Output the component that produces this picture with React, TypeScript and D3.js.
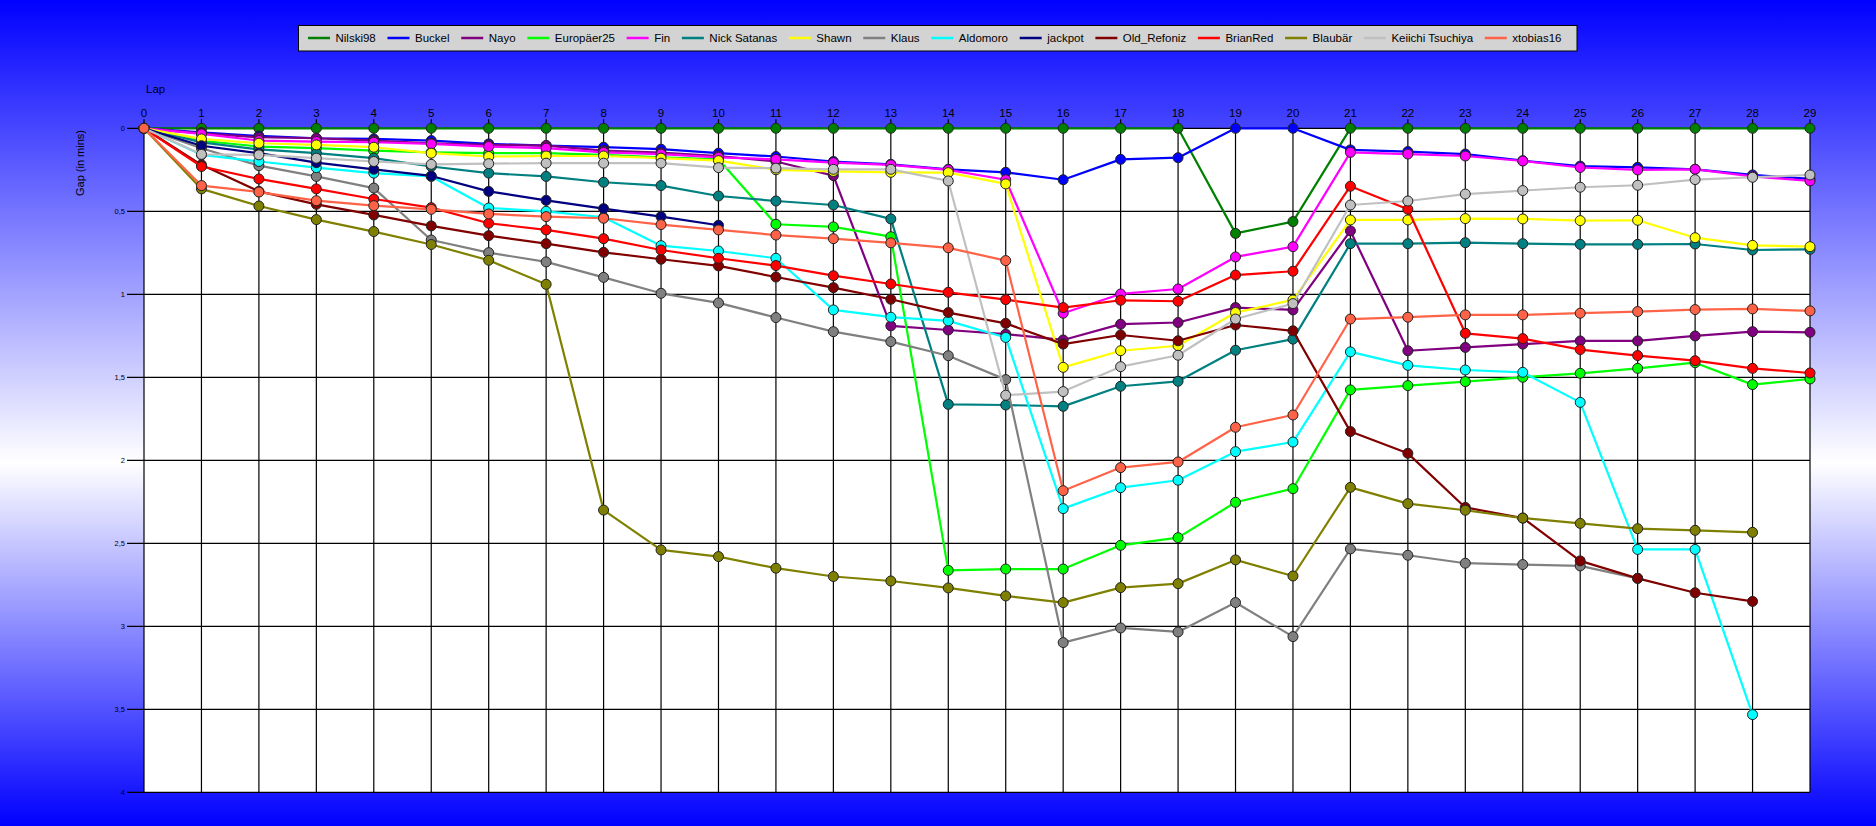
import { useEffect, useRef } from 'react';
import * as d3 from 'd3';

// Lap numbers (x categories)
const laps = [0, 1, 2, 3, 4, 5, 6, 7, 8, 9, 10, 11, 12, 13, 14, 15, 16, 17, 18, 19, 20, 21, 22, 23, 24, 25, 26, 27, 28, 29];

// Gap to leader in minutes, one value per lap (null = no data)
const nilski98 = [0, 0, 0, 0, 0, 0, 0, 0, 0, 0, 0, 0, 0, 0, 0, 0, 0, 0, 0, 0.633, 0.562, 0, 0, 0, 0, 0, 0, 0, 0, 0];
const buckel = [0, 0.025, 0.046, 0.06, 0.064, 0.074, 0.094, 0.104, 0.114, 0.126, 0.15, 0.17, 0.2, 0.217, 0.247, 0.265, 0.31, 0.187, 0.177, 0, 0, 0.13, 0.14, 0.155, 0.195, 0.228, 0.235, 0.247, 0.281, 0.305];
const nayo = [0, 0.03, 0.054, 0.06, 0.074, 0.09, 0.1, 0.104, 0.135, 0.147, 0.167, 0.2, 0.285, 1.19, 1.215, 1.24, 1.275, 1.18, 1.17, 1.08, 1.094, 0.618, 1.34, 1.32, 1.3, 1.281, 1.281, 1.251, 1.225, 1.229];
const europaer25 = [0, 0.075, 0.11, 0.12, 0.135, 0.145, 0.15, 0.15, 0.16, 0.175, 0.187, 0.578, 0.594, 0.653, 2.663, 2.655, 2.655, 2.512, 2.466, 2.253, 2.171, 1.576, 1.55, 1.526, 1.5, 1.476, 1.446, 1.412, 1.544, 1.51];
const fin = [0, 0.034, 0.074, 0.08, 0.084, 0.094, 0.11, 0.12, 0.145, 0.155, 0.175, 0.187, 0.207, 0.22, 0.25, 0.31, 1.114, 0.998, 0.968, 0.775, 0.713, 0.145, 0.155, 0.167, 0.197, 0.236, 0.251, 0.247, 0.29, 0.317];
const nickSatanas = [0, 0.085, 0.127, 0.15, 0.18, 0.23, 0.27, 0.29, 0.325, 0.345, 0.408, 0.438, 0.462, 0.546, 1.663, 1.667, 1.675, 1.554, 1.524, 1.337, 1.27, 0.695, 0.695, 0.689, 0.695, 0.699, 0.699, 0.697, 0.733, 0.729];
const shawn = [0, 0.064, 0.09, 0.1, 0.114, 0.15, 0.17, 0.167, 0.167, 0.18, 0.195, 0.25, 0.26, 0.265, 0.267, 0.335, 1.44, 1.34, 1.31, 1.11, 1.034, 0.552, 0.552, 0.544, 0.546, 0.556, 0.554, 0.659, 0.705, 0.713];
const klaus = [0, 0.12, 0.225, 0.29, 0.36, 0.673, 0.749, 0.805, 0.898, 0.994, 1.052, 1.14, 1.225, 1.285, 1.37, 1.514, 3.098, 3.01, 3.034, 2.857, 3.062, 2.534, 2.572, 2.62, 2.628, 2.636, 2.711, null, null, null];
const aldomoro = [0, 0.16, 0.2, 0.237, 0.27, 0.29, 0.48, 0.5, 0.536, 0.707, 0.739, 0.783, 1.094, 1.138, 1.16, 1.26, 2.291, 2.165, 2.12, 1.948, 1.89, 1.347, 1.428, 1.456, 1.47, 1.651, 2.537, 2.537, 3.532, null];
const jackpot = [0, 0.105, 0.15, 0.207, 0.247, 0.287, 0.38, 0.434, 0.484, 0.532, 0.584, null, null, null, null, null, null, null, null, null, null, null, null, null, null, null, null, null, null, null];
const oldRefoniz = [0, 0.22, 0.38, 0.458, 0.522, 0.588, 0.647, 0.695, 0.747, 0.789, 0.829, 0.896, 0.96, 1.03, 1.11, 1.175, 1.3, 1.245, 1.28, 1.185, 1.22, 1.827, 1.958, 2.284, 2.348, 2.606, 2.711, 2.798, 2.85, null];
const brianRed = [0, 0.23, 0.305, 0.365, 0.426, 0.478, 0.572, 0.612, 0.665, 0.733, 0.783, 0.827, 0.888, 0.938, 0.988, 1.032, 1.08, 1.036, 1.042, 0.884, 0.861, 0.349, 0.488, 1.235, 1.267, 1.333, 1.369, 1.4, 1.446, 1.474];
const blaubaer = [0, 0.365, 0.468, 0.55, 0.622, 0.7, 0.795, 0.94, 2.3, 2.54, 2.58, 2.65, 2.7, 2.727, 2.769, 2.817, 2.857, 2.767, 2.743, 2.6, 2.697, 2.163, 2.261, 2.301, 2.348, 2.38, 2.412, 2.422, 2.434, null];
const keiichi = [0, 0.157, 0.16, 0.18, 0.2, 0.217, 0.213, 0.21, 0.21, 0.21, 0.237, 0.24, 0.247, 0.247, 0.317, 1.608, 1.586, 1.436, 1.367, 1.149, 1.056, 0.462, 0.438, 0.396, 0.375, 0.355, 0.343, 0.309, 0.295, 0.281];
const xtobias16 = [0, 0.345, 0.384, 0.436, 0.466, 0.488, 0.516, 0.532, 0.542, 0.58, 0.612, 0.643, 0.665, 0.69, 0.72, 0.797, 2.183, 2.044, 2.01, 1.801, 1.727, 1.149, 1.138, 1.124, 1.124, 1.114, 1.104, 1.092, 1.088, 1.1];

const drivers = ['Nilski98', 'Buckel', 'Nayo', 'Europäer25', 'Fin', 'Nick Satanas', 'Shawn', 'Klaus', 'Aldomoro', 'jackpot', 'Old_Refoniz', 'BrianRed', 'Blaubär', 'Keiichi Tsuchiya', 'xtobias16'];
const driverColors = ['#008000', '#0000ff', '#800080', '#00ff00', '#ff00ff', '#008080', '#ffff00', '#808080', '#00ffff', '#000080', '#800000', '#ff0000', '#808000', '#c0c0c0', '#ff6347'];
const gapValues = [nilski98, buckel, nayo, europaer25, fin, nickSatanas, shawn, klaus, aldomoro, jackpot, oldRefoniz, brianRed, blaubaer, keiichi, xtobias16];

const gapTicks = [0, 0.5, 1, 1.5, 2, 2.5, 3, 3.5, 4];

export default function App() {
  const svgRef = useRef<SVGSVGElement>(null);

  useEffect(() => {
    if (!svgRef.current) return;
    const svg = d3.select(svgRef.current);
    svg.selectAll('*').remove();

    const width = 1876;
    const height = 826;
    const font = '"Liberation Sans", Arial, sans-serif';

    // Background gradient
    const defs = svg.append('defs');
    const grad = defs.append('linearGradient')
      .attr('id', 'bgGrad')
      .attr('x1', 0).attr('y1', 0).attr('x2', 0).attr('y2', 1);
    grad.append('stop').attr('offset', '0%').attr('stop-color', '#0000ff');
    grad.append('stop').attr('offset', '56%').attr('stop-color', '#ffffff');
    grad.append('stop').attr('offset', '100%').attr('stop-color', '#0000ff');

    svg.append('rect')
      .attr('width', width)
      .attr('height', height)
      .attr('fill', 'url(#bgGrad)');

    const xScale = d3.scaleLinear().domain([0, 29]).range([144, 1810]);
    const yScale = d3.scaleLinear().domain([0, 4]).range([128.3, 792.3]);

    // Plot area
    svg.append('rect')
      .attr('x', xScale(0))
      .attr('y', yScale(0))
      .attr('width', xScale(29) - xScale(0))
      .attr('height', yScale(4) - yScale(0))
      .attr('fill', '#ffffff');

    // Vertical grid + top ticks
    const grid = svg.append('g').attr('stroke', '#000').attr('stroke-width', 1.2);
    laps.forEach(l => {
      grid.append('line')
        .attr('x1', xScale(l)).attr('x2', xScale(l))
        .attr('y1', yScale(0) - 9).attr('y2', yScale(4));
    });
    gapTicks.forEach(t => {
      grid.append('line')
        .attr('x1', xScale(0) - 17).attr('x2', xScale(29))
        .attr('y1', yScale(t)).attr('y2', yScale(t));
    });

    // Lap labels on top
    svg.append('g')
      .selectAll('text')
      .data(laps)
      .enter()
      .append('text')
      .attr('x', d => xScale(d))
      .attr('y', yScale(0) - 11)
      .attr('text-anchor', 'middle')
      .style('font-family', font)
      .style('font-size', '11.5px')
      .attr('fill', '#000')
      .text(d => String(d));

    // Gap labels
    svg.append('g')
      .selectAll('text')
      .data(gapTicks)
      .enter()
      .append('text')
      .attr('x', xScale(0) - 19)
      .attr('y', d => yScale(d))
      .attr('dy', '0.35em')
      .attr('text-anchor', 'end')
      .style('font-family', font)
      .style('font-size', '7.5px')
      .attr('fill', '#000')
      .text(d => String(d).replace('.', ','));

    // Axis titles
    svg.append('text')
      .attr('x', 146)
      .attr('y', 93)
      .style('font-family', font)
      .style('font-size', '11.5px')
      .attr('fill', '#000')
      .text('Lap');

    svg.append('text')
      .attr('transform', 'translate(84,163) rotate(-90)')
      .attr('text-anchor', 'middle')
      .style('font-family', font)
      .style('font-size', '11px')
      .attr('fill', '#000')
      .text('Gap (in mins)');

    // Series
    drivers.forEach((name, i) => {
      const pts = laps
        .map((l, j) => ({ lap: l, gap: gapValues[i][j] }))
        .filter(p => p.gap !== null && p.gap !== undefined) as { lap: number; gap: number }[];

      const line = d3.line<{ lap: number; gap: number }>()
        .x(d => xScale(d.lap))
        .y(d => yScale(d.gap));

      svg.append('path')
        .datum(pts)
        .attr('d', line)
        .attr('fill', 'none')
        .attr('stroke', driverColors[i])
        .attr('stroke-width', 2.2)
        .attr('stroke-linejoin', 'round');

      svg.append('g')
        .selectAll('circle')
        .data(pts)
        .enter()
        .append('circle')
        .attr('cx', d => xScale(d.lap))
        .attr('cy', d => yScale(d.gap))
        .attr('r', 5)
        .attr('fill', driverColors[i])
        .attr('stroke', '#222')
        .attr('stroke-width', 1);
    });

    // Legend
    const legend = svg.append('g');
    const legendBox = legend.append('rect')
      .attr('fill', '#d3d3d3')
      .attr('stroke', '#000')
      .attr('stroke-width', 1);

    const swatch = 22;
    const textGap = 5.5;
    const startX = 308;
    const endX = 1561.5;
    const items = drivers.map((name, i) => {
      const g = legend.append('g');
      g.append('line')
        .attr('x1', 0).attr('x2', swatch)
        .attr('y1', 0).attr('y2', 0)
        .attr('stroke', driverColors[i])
        .attr('stroke-width', 2.5);
      const t = g.append('text')
        .attr('x', swatch + textGap)
        .attr('y', 4)
        .style('font-family', font)
        .style('font-size', '11.5px')
        .attr('fill', '#000')
        .text(name);
      const w = (t.node() as SVGTextElement).getComputedTextLength();
      return { g, w: swatch + textGap + w };
    });
    const total = d3.sum(items, d => d.w);
    const gap = (endX - startX - total) / (items.length - 1);
    let cx = startX;
    items.forEach(it => {
      it.g.attr('transform', `translate(${cx},38)`);
      cx += it.w + gap;
    });
    legendBox
      .attr('x', startX - 9.5)
      .attr('y', 25.5)
      .attr('width', endX + 15.5 - (startX - 9.5))
      .attr('height', 25.5);
  }, []);

  return (
    <svg
      ref={svgRef}
      width={1876}
      height={826}
      style={{ position: 'absolute', left: 0, top: 0, display: 'block' }}
    />
  );
}
